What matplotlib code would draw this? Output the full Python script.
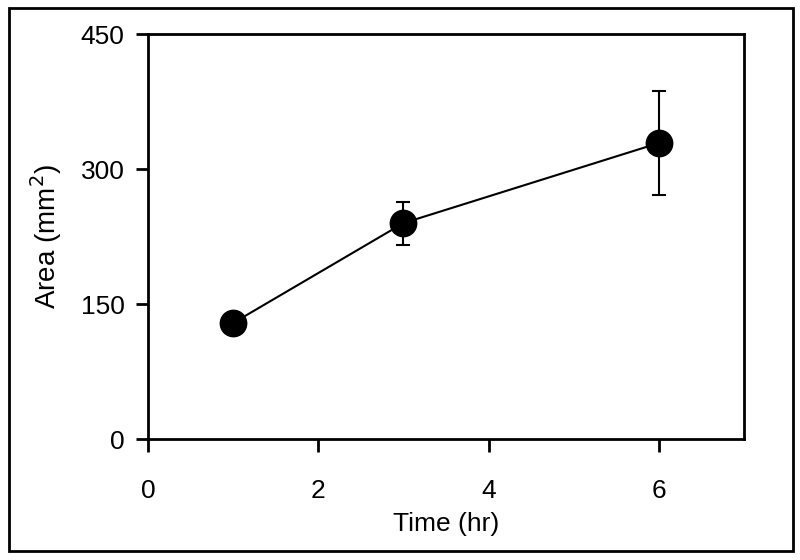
import matplotlib
matplotlib.use('Agg')
import matplotlib.pyplot as plt
from matplotlib.patches import Rectangle

plt.rcParams['font.family'] = ['Liberation Sans', 'DejaVu Sans']

# data
time_hr = [1, 3, 6]
area_mm2 = [129, 240, 329]
area_err = [0, 24, 58]
x_ticks = [0, 2, 4, 6]
y_ticks = [0, 150, 300, 450]

fig = plt.figure(figsize=(8, 5.6), dpi=100)
ax = fig.add_axes([0.185, 0.216, 0.745, 0.723])

ax.errorbar(time_hr, area_mm2, yerr=area_err, color='black', lw=1.5,
            marker='o', markersize=19, elinewidth=1.5, capsize=5, capthick=1.5)

ax.set_xlim(0, 7)
ax.set_ylim(0, 450)
ax.set_xticks(x_ticks)
ax.set_yticks(y_ticks)
for s in ax.spines.values():
    s.set_linewidth(2)
ax.tick_params(direction='out', length=9, width=2, labelsize=19)
ax.tick_params(axis='x', pad=20)
ax.tick_params(axis='y', pad=8)
ax.set_xlabel('Time (hr)', fontsize=19, labelpad=6)
ax.set_ylabel('Area (mm$^2$)', fontsize=20, labelpad=12)

# frame round the whole chart
fig.patches.append(Rectangle((0.011, 0.016), 0.98, 0.97, transform=fig.transFigure,
                             fill=False, edgecolor='black', lw=2))

fig.savefig('out.png', dpi=100)
